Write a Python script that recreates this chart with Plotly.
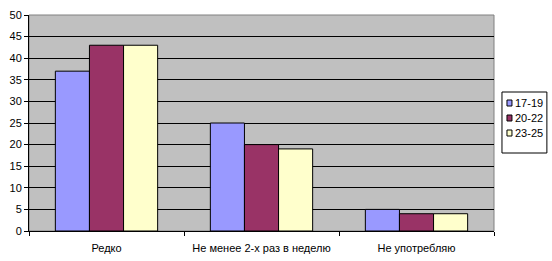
import plotly.graph_objects as go

categories = ["Редко", "Не менее 2-х раз в неделю", "Не употребляю"]
series_names = ["17-19", "20-22", "23-25"]
values_17_19 = [37, 25, 5]
values_20_22 = [43, 20, 4]
values_23_25 = [43, 19, 4]
colors = ["#9999FF", "#993366", "#FFFFCC"]

fig = go.Figure()
for name, vals, col in zip(series_names, [values_17_19, values_20_22, values_23_25], colors):
    fig.add_trace(go.Bar(x=categories, y=vals, name=name, marker=dict(color=col, line=dict(color="black", width=1)),
                         showlegend=False))

FONT = "Liberation Sans, Arial, sans-serif"
fig.update_layout(
    width=552, height=261,
    margin=dict(l=29, r=58, t=15, b=30),
    paper_bgcolor="white", plot_bgcolor="#C0C0C0",
    barmode="group", bargap=0.34, bargroupgap=0,
    font=dict(family=FONT, size=11, color="black"),
    xaxis=dict(showline=True, linecolor="black", linewidth=1, ticks="outside", tickson="boundaries",
               ticklen=4, tickcolor="black", tickfont=dict(size=11, family=FONT), ticklabelstandoff=7,
               automargin=False),
    yaxis=dict(range=[0, 50], dtick=5, showgrid=True, gridcolor="black", gridwidth=1,
               showline=True, linecolor="black", linewidth=1, ticks="outside", ticklen=4,
               tickcolor="black", tickfont=dict(size=11, family=FONT), zeroline=False, automargin=False),
)
# plot area border (top/right)
fig.add_shape(type="rect", xref="paper", yref="paper", x0=0, x1=1, y0=0, y1=1,
              line=dict(color="#808080", width=1), layer="below")

# manual legend
lx0, lx1 = 503, 548
ly0, ly1 = 92, 153
def px(x):
    return (x - 29) / 466
def py(y):
    return (231 - y) / 216
fig.add_shape(type="rect", xref="paper", yref="paper", x0=px(lx0), x1=px(lx1), y0=py(ly1), y1=py(ly0),
              line=dict(color="black", width=1), fillcolor="white")
for i, (name, col) in enumerate(zip(series_names, colors)):
    yc = 103 + i * 15
    fig.add_shape(type="rect", xref="paper", yref="paper", x0=px(508), x1=px(513), y0=py(yc + 3), y1=py(yc - 3),
                  line=dict(color="black", width=1), fillcolor=col)
    fig.add_annotation(xref="paper", yref="paper", x=px(514), y=py(yc), text=name, showarrow=False,
                       xanchor="left", yanchor="middle", font=dict(size=11, family=FONT))

fig.write_html("out.html")
